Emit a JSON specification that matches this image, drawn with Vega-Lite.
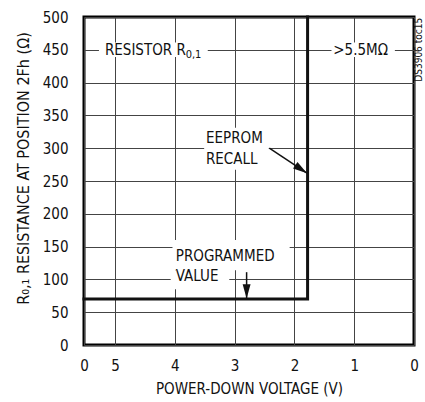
{
  "$schema": "https://vega.github.io/schema/vega-lite/v6.json",
  "width": 330,
  "height": 328,
  "autosize": {"type": "none"},
  "padding": {"left": 84, "top": 17, "right": 11, "bottom": 57},
  "config": {
    "view": {"stroke": "#000", "strokeWidth": 3},
    "font": "DejaVu Sans Condensed, Liberation Sans, sans-serif",
    "axis": {
      "labelFont": "DejaVu Sans Condensed, Liberation Sans, sans-serif",
      "titleFont": "DejaVu Sans Condensed, Liberation Sans, sans-serif",
      "labelFontSize": 15,
      "titleFontSize": 15,
      "labelColor": "#111",
      "titleColor": "#111",
      "titleFontWeight": "normal",
      "domain": false,
      "ticks": false,
      "tickSize": 0,
      "gridColor": "#444",
      "gridWidth": 1,
      "gridOpacity": 1
    },
    "text": {"font": "DejaVu Sans Condensed, Liberation Sans, sans-serif", "fontSize": 15, "color": "#111"}
  },
  "datasets": {
    "curve": [
      {"v": 5.52, "r": 70, "o": 1},
      {"v": 1.78, "r": 70, "o": 2},
      {"v": 1.78, "r": 500, "o": 3}
    ],
    "gaps": [
      {"v1": 5.27, "v2": 3.45, "r1": 439, "r2": 461},
      {"v1": 1.38, "v2": 0.32, "r1": 439, "r2": 461},
      {"v1": 3.51, "v2": 2.43, "r1": 267, "r2": 331},
      {"v1": 4.04, "v2": 2.08, "r1": 114, "r2": 160},
      {"v1": 4.07, "v2": 3.09, "r1": 85, "r2": 114}
    ],
    "arrows": [
      {"v1": 2.42, "r1": 300, "v2": 1.79, "r2": 262, "ang": 34},
      {"v1": 2.8, "r1": 111, "v2": 2.8, "r2": 71, "ang": 90}
    ],
    "labels": [
      {"v": 5.17, "r": 450, "t": "RESISTOR R"},
      {"v": 1.35, "r": 450, "t": ">5.5MΩ"},
      {"v": 3.48, "r": 315, "t": "EEPROM"},
      {"v": 3.48, "r": 283, "t": "RECALL"},
      {"v": 3.985, "r": 136, "t": "PROGRAMMED"},
      {"v": 3.985, "r": 105, "t": "VALUE"}
    ],
    "subs": [
      {"v": 3.82, "r": 450, "t": "0,1"}
    ],
    "note": [
      {"v": -0.09, "r": 450, "t": "DS3906 toc15"}
    ]
  },
  "encoding": {
    "x": {
      "field": "v", "type": "quantitative",
      "scale": {"domain": [0, 5.52], "reverse": true, "nice": false, "zero": false},
      "axis": {
        "values": [5.52, 5, 4, 3, 2, 1, 0],
        "labelExpr": "datum.value > 5.2 ? '0' : datum.label",
        "title": "POWER-DOWN VOLTAGE (V)",
        "labelPadding": 13,
        "titlePadding": 8,
        "labelFlush": false
      }
    },
    "y": {
      "field": "r", "type": "quantitative",
      "scale": {"domain": [0, 500], "nice": false},
      "axis": {
        "values": [0, 50, 100, 150, 200, 250, 300, 350, 400, 450, 500],
        "title": "R₀,₁ RESISTANCE AT POSITION 2Fh (Ω)",
        "titleFontSize": 16,
        "labelPadding": 16,
        "titlePadding": 11,
        "titleY": 151,
        "labelFlush": false
      }
    }
  },
  "layer": [
    {
      "data": {"name": "gaps"},
      "mark": {"type": "rect", "fill": "white"},
      "encoding": {
        "x": {"field": "v1", "type": "quantitative"},
        "x2": {"field": "v2"},
        "y": {"field": "r1", "type": "quantitative"},
        "y2": {"field": "r2"}
      }
    },
    {
      "data": {"name": "curve"},
      "mark": {"type": "line", "color": "#111", "strokeWidth": 3, "strokeJoin": "miter", "strokeCap": "square"},
      "encoding": {"order": {"field": "o", "type": "quantitative"}}
    },
    {
      "data": {"name": "arrows"},
      "mark": {"type": "rule", "color": "#111", "strokeWidth": 1.5},
      "encoding": {
        "x": {"field": "v1", "type": "quantitative"},
        "x2": {"field": "v2"},
        "y": {"field": "r1", "type": "quantitative"},
        "y2": {"field": "r2"}
      }
    },
    {
      "data": {"name": "arrows"},
      "mark": {"type": "point", "shape": "M0,0L-1,-0.28L-1,0.28Z", "filled": true, "color": "#111", "size": 800, "opacity": 1},
      "encoding": {
        "x": {"field": "v2", "type": "quantitative"},
        "y": {"field": "r2", "type": "quantitative"},
        "angle": {"field": "ang", "type": "quantitative", "scale": null}
      }
    },
    {
      "data": {"name": "labels"},
      "mark": {"type": "text", "align": "left", "baseline": "middle"},
      "encoding": {"text": {"field": "t"}}
    },
    {
      "data": {"name": "subs"},
      "mark": {"type": "text", "align": "left", "baseline": "middle", "fontSize": 11, "dy": 5},
      "encoding": {"text": {"field": "t"}}
    },
    {
      "data": {"name": "note"},
      "mark": {"type": "text", "align": "center", "baseline": "middle", "fontSize": 10, "angle": 270, "clip": false},
      "encoding": {"text": {"field": "t"}}
    }
  ]
}
